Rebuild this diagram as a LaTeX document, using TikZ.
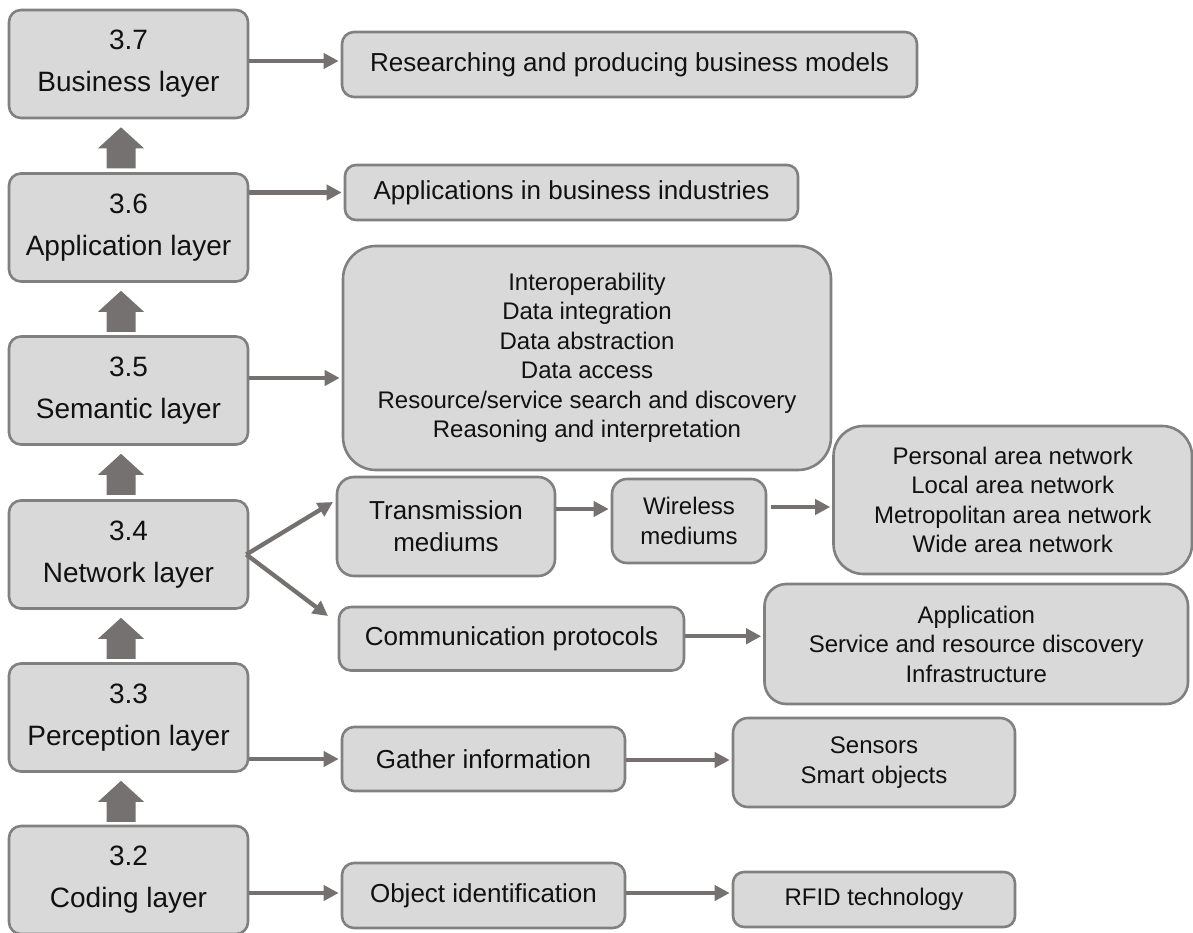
\documentclass[tikz,border=0pt]{standalone}
\usepackage{fontspec}
\setmainfont{Liberation Sans}
\usetikzlibrary{arrows.meta}
\definecolor{boxfill}{HTML}{D9D9D9}
\definecolor{boxline}{HTML}{808080}
\definecolor{arrowc}{HTML}{767171}
\definecolor{txt}{HTML}{111111}
\begin{document}
\begin{tikzpicture}[x=1pt,y=-1pt,
  box/.style={draw=boxline, fill=boxfill, line width=2.6pt, rounded corners=#1,
    inner sep=0pt, align=center, text=txt},
  box/.default=11pt,
  layer/.style={box=12pt, minimum width=239pt, minimum height=108pt,
    font=\fontsize{28}{42}\selectfont,
    execute at begin node={\rule{0pt}{26pt}}},
  big/.style={font=\fontsize{26}{32}\selectfont},
  small/.style={font=\fontsize{24}{29.5}\selectfont},
  conn/.style={draw=arrowc, line width=4.3pt, shorten >=2pt,
    -{Triangle[length=15pt,width=15pt]}},
  fat/.style={fill=arrowc}]
\useasboundingbox[fill=white] (0,0) rectangle (1193,933);

% layer column
\node[layer] (L37) at (128.5,64)    {3.7\\Business layer};
\node[layer] (L36) at (128.5,227.5) {3.6\\Application layer};
\node[layer] (L35) at (128.5,390.5) {3.5\\Semantic layer};
\node[layer] (L34) at (128.5,554.5) {3.4\\Network layer};
\node[layer] (L33) at (128.5,717.5) {3.3\\Perception layer};
\node[layer] (L32) at (128.5,880)   {3.2\\Coding layer};

% block arrows between layers
\foreach \lo/\hi in {L36/L37, L35/L36, L34/L35, L33/L34, L32/L33}
  \fill[fat] ([xshift=-7.5pt,yshift=-8pt]\hi.south) -- ++(23,21) -- ++(-8.5,0)
    -- ++(0,20) -- ++(-29,0) -- ++(0,-20) -- ++(-8.5,0) -- cycle;

% description boxes
\node[box=12pt, big, minimum width=575pt, minimum height=65pt] (res) at (629.5,64.5)
  {Researching and producing business models};
\node[box=11pt, big, minimum width=453pt, minimum height=55pt] (app) at (571.5,192.5)
  {Applications in business industries};
\node[box=33pt, small, minimum width=488pt, minimum height=224pt] (sem) at (587,358)
  {Interoperability\\Data integration\\Data abstraction\\Data access\\
   Resource/service search and discovery\\Reasoning and interpretation};
\node[box=17pt, big, minimum width=218pt, minimum height=99pt] (trans) at (446,526.5)
  {Transmission\\mediums};
\node[box=15pt, small, minimum width=154pt, minimum height=84pt] (wire) at (689,521)
  {Wireless\\mediums};
\node[box=30pt, small, minimum width=358.5pt, minimum height=148pt] (net) at (1012.75,500)
  {Personal area network\\Local area network\\Metropolitan area network\\Wide area network};
\node[box=12pt, big, minimum width=345pt, minimum height=63.5pt] (comm) at (511.5,638.75)
  {Communication protocols};
\node[box=22pt, small, minimum width=423.5pt, minimum height=120pt] (prot) at (976.25,644)
  {Application\\Service and resource discovery\\Infrastructure};
\node[box=12pt, big, minimum width=283pt, minimum height=64pt] (gath) at (483.5,759)
  {Gather information};
\node[box=15pt, small, minimum width=282pt, minimum height=89pt] (sens) at (874,762.5)
  {Sensors\\Smart objects};
\node[box=12pt, big, minimum width=283pt, minimum height=65pt] (obj) at (483.5,895.5)
  {Object identification};
\node[box=11pt, small, minimum width=282pt, minimum height=55pt] (rfid) at (874,899.5)
  {RFID technology};

% fork ends beside the network branch boxes
\coordinate (trin) at (333,502);
\coordinate (comin) at (328,616);

% connectors
\draw[conn] ([yshift=3pt]L37.east) -- ([yshift=3pt]L37.east -| res.west);
\draw[conn] (L36.east |- app.west) -- (app.west);
\draw[conn] ([yshift=12.5pt]L35.east) -- ([yshift=12.5pt]L35.east -| sem.west);
\draw[conn, shorten >=0pt] ([xshift=-3pt]L34.east) -- (trin);
\draw[conn, shorten >=0pt] ([xshift=-3pt]L34.east) -- (comin);
\draw[conn] ([yshift=17.5pt]trans.east) -- ([yshift=17.5pt]trans.east -| wire.west);
\draw[conn] ([xshift=4pt,yshift=14pt]wire.east) -- ([yshift=14pt]wire.east -| net.west);
\draw[conn] ([yshift=2.5pt]comm.east) -- ([yshift=2.5pt]comm.east -| prot.west);
\draw[conn] (L33.east |- gath.west) -- (gath.west);
\draw[conn] ([yshift=-1pt]gath.east) -- ([yshift=-1pt]gath.east -| sens.west);
\draw[conn] ([yshift=2.5pt]L32.east |- obj.west) -- ([yshift=2.5pt]obj.west);
\draw[conn] ([yshift=2.5pt]obj.east) -- ([yshift=2.5pt]obj.east -| rfid.west);
\end{tikzpicture}
\end{document}
